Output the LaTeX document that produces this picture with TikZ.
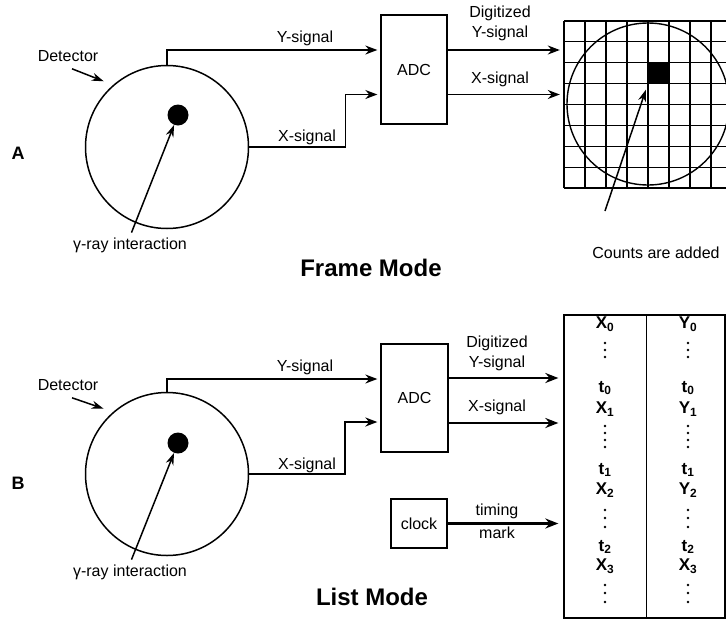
\documentclass[tikz,border=0pt]{standalone}
\usepackage{fontspec}
\setsansfont{Liberation Sans}
\usetikzlibrary{arrows.meta,positioning,calc}

\begin{document}
\begin{tikzpicture}[
    x=1pt, y=-1pt,
    font=\sffamily\fontsize{16}{20}\selectfont,
    det/.style={draw, circle, line width=1.5pt, minimum size=163pt, inner sep=0pt},
    hit/.style={fill, circle, minimum size=21pt, inner sep=0pt},
    unit/.style={draw, line width=1.3pt, align=center, inner sep=0pt},
    lbl/.style={inner sep=1pt, align=center},
    title/.style={font=\sffamily\bfseries\fontsize{24}{28}\selectfont},
    panel/.style={font=\sffamily\bfseries\fontsize{18}{20}\selectfont},
    entry/.style={font=\sffamily\bfseries\fontsize{17}{18}\selectfont, inner sep=0pt},
    gridline/.style={line width=1.2pt},
    sig/.style={line width=1.4pt, -{Stealth[length=12pt, width=9pt]}},
    bus/.style={line width=2.4pt, -{Stealth[length=13pt, width=10pt]}},
    ptr/.style={line width=1.5pt, -{Stealth[length=12pt, width=8pt]}}
]
    \useasboundingbox (0,0) rectangle (726,619);

    % ---------------- A : Frame Mode ----------------
    \node[panel] (p_a) at (18,153) {A};
    \node[det] (det_a) at (167,147) {};
    \node[hit] (hit_a) at (178,115) {};
    \node[lbl] (detl_a) at (68,56) {Detector};
    \node[lbl] (gam_a) at (130,245) {γ-ray interaction};
    \draw[ptr, shorten >=10pt] ([xshift=4pt, yshift=-6pt]detl_a.south) -- (det_a.131);
    \draw[ptr, shorten <=4pt] (gam_a.north) -- (hit_a);

    \node[unit, minimum width=66pt, minimum height=109pt] (adc_a) at (414,69.5) {ADC};

    % signaux vers l'ADC
    \draw[sig, shorten >=3pt] (det_a.north) |- ([yshift=19.5pt]adc_a.west);
    \draw[sig, shorten >=3pt] (det_a.east) -- ++(96,0) |- ([yshift=-25pt]adc_a.west);
    \node[lbl] (ys_a) at (305,38) {Y-signal};
    \node[lbl] (xs_a) at (307,137) {X-signal};

    % matrice image
    \node[inner sep=0pt, minimum width=162pt, minimum height=167pt] (scr_a) at (645,104.5) {};
    \foreach \i in {0,...,7}
        \draw[gridline] (564+21*\i,21) -- (564+21*\i,188);
    \foreach \j in {0,...,8}
        \draw[gridline] (564,21+20.875*\j) -- (726,21+20.875*\j);
    \node[draw, circle, line width=1.4pt, minimum size=162pt, inner sep=0pt] (fov_a) at (648,104) {};
    \node[fill, minimum width=21pt, minimum height=21pt, inner sep=0pt] (cell_a) at (658.5,73.3) {};

    \draw[sig, shorten >=4pt] ([yshift=19.5pt]adc_a.east) -- ([yshift=19.5pt]adc_a.east -| scr_a.west);
    \draw[sig, shorten >=4pt] ([yshift=-25pt]adc_a.east) -- ([yshift=-25pt]adc_a.east -| scr_a.west);
    \node[lbl] (dy_a) at (500,23) {Digitized\\Y-signal};
    \node[lbl] (dx_a) at (500,79) {X-signal};

    \node[lbl] (cnt_a) at (656,253) {Counts are added};
    \coordinate (cnt_tail) at (605,211);
    \draw[ptr, shorten >=6pt] (cnt_tail) -- (cell_a.south west);

    \node[title] (mode_a) at (371,268) {Frame Mode};

    % ---------------- B : List Mode ----------------
    \node[panel] (p_b) at (18,483) {B};
    \node[det] (det_b) at (167,474) {};
    \node[hit] (hit_b) at (178,443) {};
    \node[lbl] (detl_b) at (68,385) {Detector};
    \node[lbl] (gam_b) at (130,572) {γ-ray interaction};
    \draw[ptr, shorten >=10pt] ([xshift=4pt, yshift=-6pt]detl_b.south) -- (det_b.131);
    \draw[ptr, shorten <=4pt] (gam_b.north) -- (hit_b);

    \node[unit, minimum width=67pt, minimum height=108pt] (adc_b) at (414.5,398) {ADC};
    \node[unit, minimum width=56pt, minimum height=49pt] (clk) at (419,523.5) {clock};

    \draw[sig, shorten >=3pt] (det_b.north) |- ([yshift=19pt]adc_b.west);
    \draw[sig, line width=2pt, shorten >=3pt] (det_b.east) -- ++(96,0) |- ([yshift=-24pt]adc_b.west);
    \node[lbl] (ys_b) at (305,367) {Y-signal};
    \node[lbl] (xs_b) at (307,465) {X-signal};

    % liste des evenements
    \node[draw, line width=1.3pt, inner sep=0pt, minimum width=161pt, minimum height=303pt] (lst) at (644.5,466.5) {};
    \draw[line width=1.3pt] (lst.north west) ++(83,0) -- ++(0,303);

    \draw[bus, shorten >=5pt] ([yshift=20pt]adc_b.east) -- ([yshift=20pt]adc_b.east -| lst.west);
    \draw[bus, shorten >=5pt] ([yshift=-25pt]adc_b.east) -- ([yshift=-25pt]adc_b.east -| lst.west);
    \draw[bus, shorten >=5pt] (clk.east) -- (clk.east -| lst.west);
    \node[lbl] (dy_b) at (497,353) {Digitized\\Y-signal};
    \node[lbl] (dx_b) at (497,407) {X-signal};
    \node[lbl] (tim_b) at (497,511) {timing};
    \node[lbl] (mrk_b) at (497,533) {mark};

    \foreach \y/\tx/\ty [count=\k] in {324/X\textsubscript{0}/Y\textsubscript{0},
                                      388/t\textsubscript{0}/t\textsubscript{0},
                                      409/X\textsubscript{1}/Y\textsubscript{1},
                                      470/t\textsubscript{1}/t\textsubscript{1},
                                      490/X\textsubscript{2}/Y\textsubscript{2},
                                      547/t\textsubscript{2}/t\textsubscript{2},
                                      566/X\textsubscript{3}/X\textsubscript{3}} {
        \node[entry] (lx\k) at (605,\y) {\tx};
        \node[entry] (ly\k) at (688,\y) {\ty};
    }
    \foreach \y in {343,350,357,426,433,440,447,510,518,527,585,593,602} {
        \fill (605,\y) circle[radius=1.4];
        \fill (688,\y) circle[radius=1.4];
    }

    \node[title] (mode_b) at (372,597) {List Mode};
\end{tikzpicture}
\end{document}
